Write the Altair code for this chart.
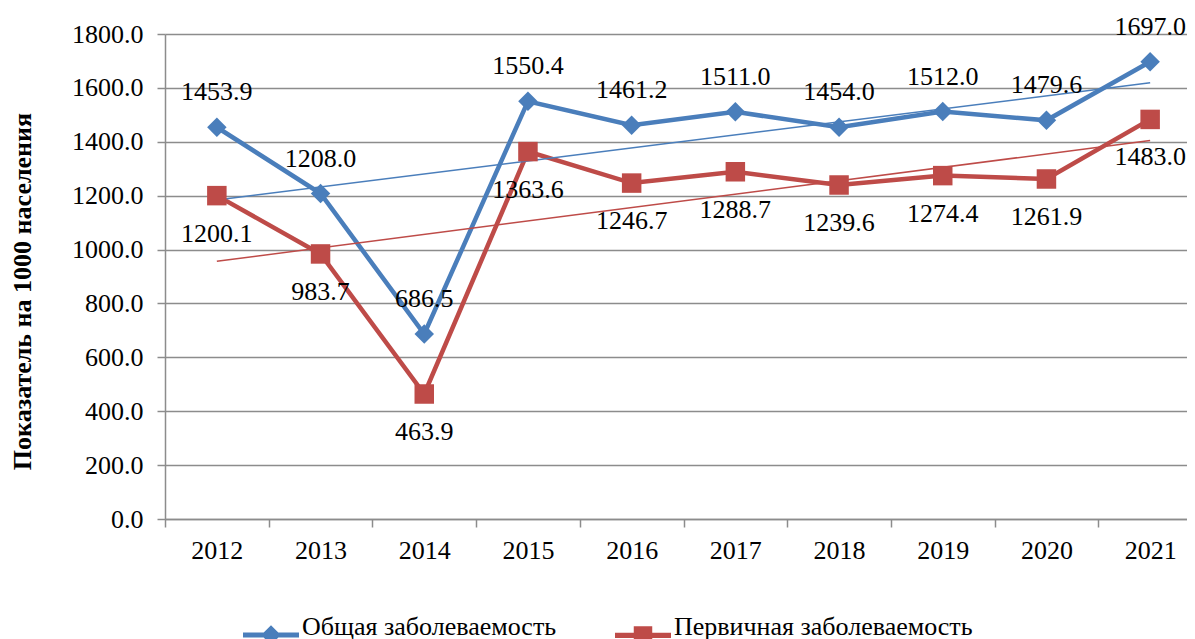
import altair as alt
import pandas as pd

years = [2012, 2013, 2014, 2015, 2016, 2017, 2018, 2019, 2020, 2021]
general = [1453.9, 1208.0, 686.5, 1550.4, 1461.2, 1511.0, 1454.0, 1512.0, 1479.6, 1697.0]
primary = [1200.1, 983.7, 463.9, 1363.6, 1246.7, 1288.7, 1239.6, 1274.4, 1261.9, 1483.0]
S1 = "Общая заболеваемость"
S2 = "Первичная заболеваемость"
y_ticks = [0, 200, 400, 600, 800, 1000, 1200, 1400, 1600, 1800]

BLUE = "#4A7EBB"
RED = "#BE4B48"
GRAY = "#8c8c8c"
FONT = "Times New Roman, Liberation Serif, serif"

rows = []
for yr, g, p in zip(years, general, primary):
    rows.append({"year": yr, "value": g, "series": S1})
    rows.append({"year": yr, "value": p, "series": S2})
df = pd.DataFrame(rows)

cscale = alt.Scale(domain=[S1, S2], range=[BLUE, RED])

base = alt.Chart(df).encode(
    x=alt.X(
        "year:O",
        bandPosition=0.5,
        scale=alt.Scale(type="band", paddingInner=0, paddingOuter=0),
        axis=alt.Axis(
            title=None, labelAngle=0, tickBand="extent", tickSize=8,
            tickColor=GRAY, domainColor=GRAY, tickWidth=1.5, domainWidth=1.5,
            labelFont=FONT, labelFontSize=26, labelColor="black", labelPadding=10,
            grid=False,
        ),
    ),
    y=alt.Y(
        "value:Q",
        scale=alt.Scale(domain=[0, 1800]),
        axis=alt.Axis(
            values=y_ticks, format=".1f", tickSize=8, tickColor=GRAY, tickWidth=1.5,
            domainColor=GRAY, domainWidth=1.5, gridColor=GRAY, gridWidth=1.5,
            labelFont=FONT, labelFontSize=26, labelColor="black", labelPadding=14,
            title="Показатель на 1000 населения", titleFont=FONT, titleFontSize=26,
            titleFontWeight="bold", titleColor="black", titlePadding=36, titleY=257,
        ),
    ),
)

lines = base.mark_line(strokeWidth=4.5).encode(
    color=alt.Color("series:N", scale=cscale, legend=None)
)

trend = base.transform_regression("year", "value", groupby=["series"]).mark_line(
    strokeWidth=1.5
).encode(color=alt.Color("series:N", scale=cscale, legend=None))

points = base.mark_point(filled=True, size=380, opacity=1).encode(
    color=alt.Color("series:N", scale=cscale, legend=None),
    shape=alt.Shape("series:N", scale=alt.Scale(domain=[S1, S2], range=["diamond", "square"]), legend=None),
)

text_g = base.transform_filter(alt.datum.series == S1).mark_text(
    dy=-35, font=FONT, fontSize=26, color="black"
).encode(text=alt.Text("value:Q", format=".1f"))

text_p = base.transform_filter(alt.datum.series == S2).mark_text(
    dy=38, font=FONT, fontSize=26, color="black"
).encode(text=alt.Text("value:Q", format=".1f"))

P1 = "M-1,-0.09L1,-0.09L1,0.09L-1,0.09Z M0,-0.35L0.35,0L0,0.35L-0.35,0Z"
P2 = "M-1,-0.09L1,-0.09L1,0.09L-1,0.09Z M-0.33,-0.33L0.33,-0.33L0.33,0.33L-0.33,0.33Z"

leg = alt.Legend(
    title=None, orient="none", legendX=78, legendY=573, direction="horizontal",
    symbolSize=3136, symbolOpacity=1, symbolStrokeWidth=0,
    labelFont=FONT, labelFontSize=26, labelColor="black", labelLimit=600,
    labelBaseline="alphabetic",
    columnPadding=58, labelOffset=3, padding=0,
)

legend_layer = base.mark_point(filled=True, opacity=0).encode(
    color=alt.Color("series:N", scale=cscale, legend=leg),
    shape=alt.Shape("series:N", scale=alt.Scale(domain=[S1, S2], range=[P1, P2]), legend=leg),
)

chart = alt.layer(lines, trend, points, text_g, text_p, legend_layer).resolve_scale(
    color="independent", shape="independent"
).properties(
    width=1037, height=485,
    autosize=alt.AutoSizeParams(type="none"),
    padding={"left": 157, "top": 26, "right": -15, "bottom": 140},
).configure_view(stroke=None)

chart.save("out.html", embed_options={"renderer": "svg", "actions": False})
